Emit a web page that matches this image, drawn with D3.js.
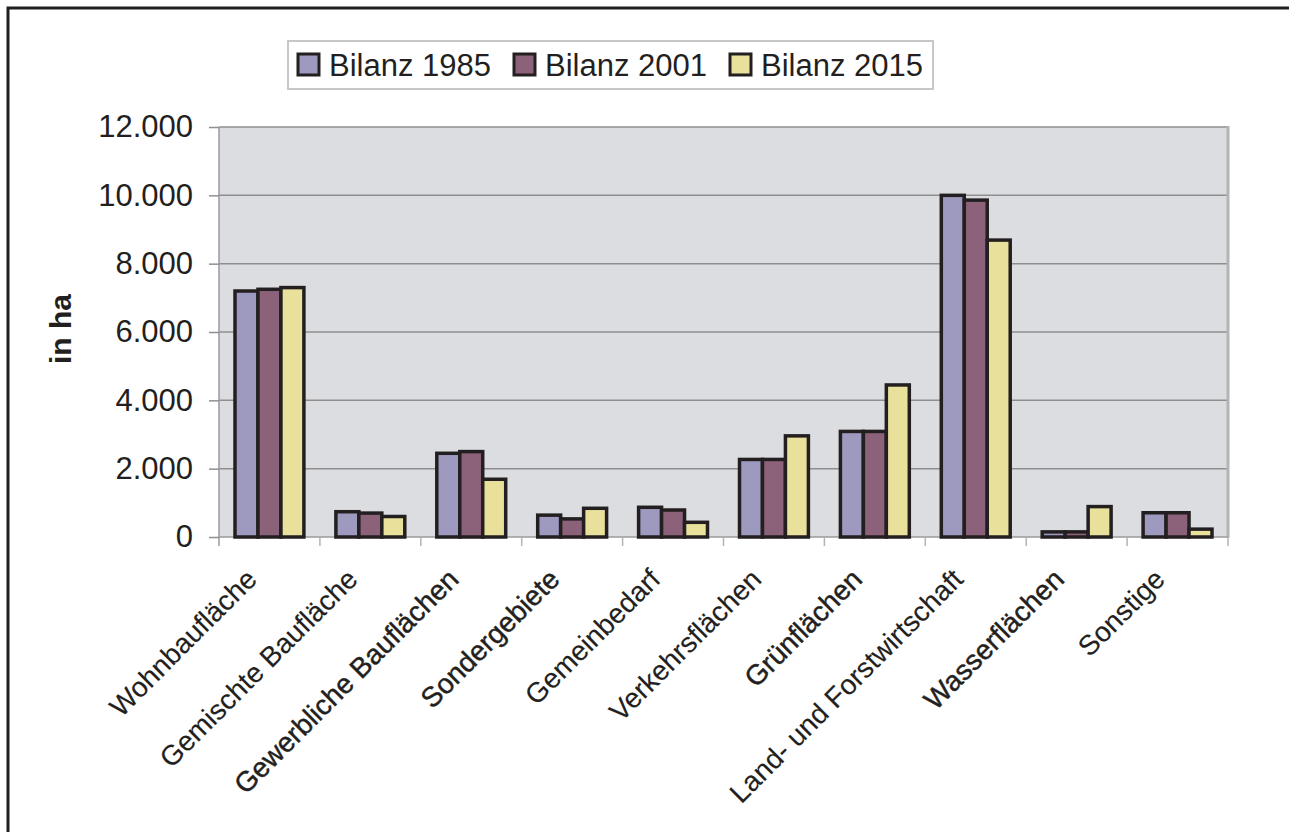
<!DOCTYPE html>
<html>
<head>
<meta charset="utf-8">
<script src="https://cdn.jsdelivr.net/npm/d3@7"></script>
<style>
  body { margin: 0; background: #fff; }
  text { font-family: "Liberation Sans", Arial, sans-serif; fill: #231f20; }
</style>
</head>
<body>
<svg id="chart"></svg>
<script>
const width = 1289, height = 832;

// data (ha)
const categories = ["Wohnbaufläche", "Gemischte Baufläche", "Gewerbliche Bauflächen", "Sondergebiete",
  "Gemeinbedarf", "Verkehrsflächen", "Grünflächen", "Land- und Forstwirtschaft", "Wasserflächen", "Sonstige"];
const boldLabels = ["Gewerbliche Bauflächen", "Sondergebiete", "Grünflächen", "Wasserflächen"];
const seriesNames = ["Bilanz 1985", "Bilanz 2001", "Bilanz 2015"];
const bilanz1985 = [7200, 740, 2450, 640, 870, 2270, 3090, 10000, 150, 710];
const bilanz2001 = [7250, 700, 2500, 530, 790, 2270, 3090, 9860, 150, 710];
const bilanz2015 = [7300, 600, 1690, 840, 430, 2960, 4450, 8690, 890, 230];
const yTicks = [0, 2000, 4000, 6000, 8000, 10000, 12000];
const colors = ["#9d99bf", "#8c617a", "#e9e09c"];

const series = [bilanz1985, bilanz2001, bilanz2015];

const svg = d3.select("#chart")
  .attr("width", width)
  .attr("height", height);

svg.append("rect").attr("width", width).attr("height", height).attr("fill", "#fff");

// outer frame (runs off the picture on right and bottom)
svg.append("rect")
  .attr("x", 8).attr("y", 8)
  .attr("width", width + 20).attr("height", height + 20)
  .attr("fill", "none")
  .attr("stroke", "#231f20")
  .attr("stroke-width", 3);

const plot = { left: 219, right: 1228, top: 127, bottom: 537 };

const x = d3.scaleBand()
  .domain(categories)
  .range([plot.left, plot.right]);

const xInner = d3.scaleBand()
  .domain(d3.range(seriesNames.length))
  .range([16, x.bandwidth() - 16]);

const y = d3.scaleLinear()
  .domain([0, 12000])
  .range([plot.bottom, plot.top]);

const de = d3.formatLocale({ decimal: ",", thousands: ".", grouping: [3], currency: ["", " €"] });
const fmt = de.format(",d");

// plot background
svg.append("rect")
  .attr("x", plot.left).attr("y", plot.top)
  .attr("width", plot.right - plot.left).attr("height", plot.bottom - plot.top)
  .attr("fill", "#dcdde0");

// gridlines
svg.append("g")
  .selectAll("line")
  .data(yTicks.filter(d => d > 0))
  .enter()
  .append("line")
  .attr("x1", plot.left).attr("x2", plot.right)
  .attr("y1", d => y(d)).attr("y2", d => y(d))
  .attr("stroke", "#8f8f91")
  .attr("stroke-width", 1.5);

// right border of plot area
svg.append("line")
  .attr("x1", plot.right).attr("x2", plot.right)
  .attr("y1", plot.top - 1).attr("y2", plot.bottom + 1)
  .attr("stroke", "#b3b4b6")
  .attr("stroke-width", 3);

// y axis
const yAxis = svg.append("g")
  .attr("transform", `translate(${plot.left},0)`)
  .call(d3.axisLeft(y).tickValues(yTicks).tickFormat(fmt).tickSize(10).tickPadding(16));
yAxis.select(".domain").attr("stroke", "#9a9a9c").attr("stroke-width", 1.5)
  .attr("d", `M0,${plot.top}V${plot.bottom + 9}`);
yAxis.selectAll(".tick line").attr("stroke", "#8f8f91").attr("stroke-width", 1.5);
yAxis.selectAll(".tick text")
  .attr("font-size", 31)
  .style("fill", "#231f20")
  .attr("font-family", "Liberation Sans, Arial, sans-serif");

// x axis
const xAxis = svg.append("g")
  .attr("transform", `translate(0,${plot.bottom})`);
xAxis.append("line")
  .attr("x1", plot.left).attr("x2", plot.right)
  .attr("stroke", "#9a9a9c").attr("stroke-width", 1.5);
xAxis.selectAll("line.tk")
  .data(categories)
  .enter()
  .append("line")
  .attr("class", "tk")
  .attr("x1", d => x(d) + x.bandwidth()).attr("x2", d => x(d) + x.bandwidth())
  .attr("y1", 0).attr("y2", 9)
  .attr("stroke", "#b3b4b6").attr("stroke-width", 1.5);

xAxis.selectAll("text")
  .data(categories)
  .enter()
  .append("text")
  .attr("transform", d => `translate(${x(d) + x.bandwidth() / 2 - 11},44) rotate(-45)`)
  .attr("text-anchor", "end")
  .attr("font-size", 28)
  .style("stroke", "#231f20")
  .style("stroke-width", d => boldLabels.includes(d) ? 0.45 : 0.15)
  .text(d => d);

// bars
const groups = svg.append("g")
  .selectAll("g")
  .data(categories)
  .enter()
  .append("g")
  .attr("transform", d => `translate(${x(d)},0)`);

groups.selectAll("rect")
  .data((d, i) => series.map((s, k) => ({ k: k, v: s[i] })))
  .enter()
  .append("rect")
  .attr("x", d => xInner(d.k))
  .attr("y", d => y(d.v))
  .attr("width", xInner.bandwidth())
  .attr("height", d => plot.bottom - y(d.v))
  .attr("fill", d => colors[d.k])
  .attr("stroke", "#231f20")
  .attr("stroke-width", 3.5);

// y title
svg.append("text")
  .attr("transform", "translate(71,329) rotate(-90)")
  .attr("text-anchor", "middle")
  .attr("font-size", 30)
  .attr("font-weight", "bold")
  .text("in ha");

// legend
const legend = svg.append("g");
legend.append("rect")
  .attr("x", 288).attr("y", 41)
  .attr("width", 645).attr("height", 48)
  .attr("fill", "#fff")
  .attr("stroke", "#c8c8ca")
  .attr("stroke-width", 2);

const items = legend.selectAll("g")
  .data(seriesNames)
  .enter()
  .append("g")
  .attr("transform", (d, i) => `translate(${298 + i * 216},0)`);
items.append("rect")
  .attr("x", 0).attr("y", 54)
  .attr("width", 21).attr("height", 21)
  .attr("fill", (d, i) => colors[i])
  .attr("stroke", "#231f20")
  .attr("stroke-width", 3);
items.append("text")
  .attr("x", 31).attr("y", 76)
  .attr("font-size", 31)
  .text(d => d);
</script>
</body>
</html>
